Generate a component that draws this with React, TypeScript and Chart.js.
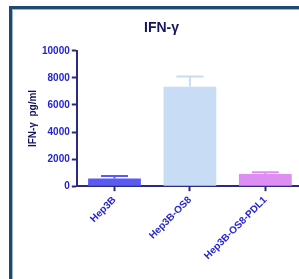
import React, { useEffect, useRef } from "react";
import { Chart, registerables } from "chart.js";

Chart.register(...registerables);

const categories = ["Hep3B", "Hep3B-OS8", "Hep3B-OS8-PDL1"];
const values = [560, 7350, 900];
const errorTops = [750, 8100, 1030];
const barColors = ["#5a5af2", "#c8dcf6", "#de8ef3"];
const yTicks = [0, 2000, 4000, 6000, 8000, 10000];
const chartTitle = "IFN-γ";
const yTitle = "IFN-γ  pg/ml";

const FONT = "'Liberation Sans', Arial, sans-serif";

const framePlugin = {
  id: "frame",
  beforeDraw(chart: any) {
    const ctx = chart.ctx;
    ctx.save();
    ctx.fillStyle = "#ffffff";
    ctx.fillRect(0, 0, chart.width, chart.height);
    ctx.fillStyle = "#1c4a72";
    ctx.fillRect(9, 6, 3, chart.height);
    ctx.fillRect(9, 6, chart.width, 3);
    ctx.fillStyle = "#9fb4c8";
    ctx.fillRect(12, 9, 1, chart.height);
    ctx.fillRect(12, 9, chart.width, 1);
    ctx.restore();
  },
};

const errorBarPlugin = {
  id: "errorBars",
  afterDatasetsDraw(chart: any) {
    const ctx = chart.ctx;
    const meta = chart.getDatasetMeta(0);
    const yScale = chart.scales.y;
    ctx.save();
    meta.data.forEach((bar: any, i: number) => {
      const x = bar.x;
      const yTop = yScale.getPixelForValue(errorTops[i]);
      const yVal = yScale.getPixelForValue(values[i]);
      ctx.strokeStyle = barColors[i];
      ctx.lineWidth = 2;
      ctx.beginPath();
      ctx.moveTo(x, yVal);
      ctx.lineTo(x, yTop);
      ctx.moveTo(x - 13.5, yTop);
      ctx.lineTo(x + 13.5, yTop);
      ctx.stroke();
    });
    ctx.restore();
  },
};

export default function App() {
  const ref = useRef<HTMLCanvasElement>(null);
  useEffect(() => {
    if (!ref.current) return;
    const chart = new Chart(ref.current, {
      type: "bar",
      data: {
        labels: categories,
        datasets: [
          {
            data: values,
            backgroundColor: barColors,
            borderWidth: 0,
            categoryPercentage: 1,
            barPercentage: 0.7,
          },
        ],
      },
      options: {
        responsive: false,
        animation: false,
        devicePixelRatio: 1,
        layout: { padding: { left: 20, right: 2, top: 0, bottom: 14 } },
        plugins: {
          legend: { display: false },
          tooltip: { enabled: false },
          title: {
            display: true,
            text: chartTitle,
            color: "#14145a",
            font: { family: FONT, size: 14, weight: "bold" },
            padding: { top: 20, bottom: 14 },
          },
        },
        scales: {
          x: {
            offset: true,
            grid: {
              offset: false,
              drawOnChartArea: false,
              drawTicks: true,
              tickLength: 5,
              tickWidth: 2,
              tickColor: "#2a2a80",
            },
            border: { display: true, color: "#2a2a80", width: 2 },
            ticks: {
              color: "#2424d0",
              font: { family: FONT, size: 10, weight: "bold" },
              maxRotation: 45,
              minRotation: 45,
              autoSkip: false,
              padding: 3,
            },
          },
          y: {
            min: 0,
            max: 10000,
            afterBuildTicks: (scale: any) => {
              scale.ticks = yTicks.map((v) => ({ value: v }));
            },
            grid: {
              drawOnChartArea: false,
              drawTicks: true,
              tickLength: 5,
              tickWidth: 2,
              tickColor: "#2a2a80",
            },
            border: { display: true, color: "#2a2a80", width: 2 },
            ticks: {
              color: "#2424d0",
              font: { family: FONT, size: 10, weight: "bold" },
              padding: 2,
              callback: (v: any) => String(v),
            },
            title: {
              display: true,
              text: yTitle,
              color: "#14145a",
              font: { family: FONT, size: 10, weight: "bold" },
              padding: { top: 7, bottom: 1 },
            },
          },
        },
      },
      plugins: [framePlugin, errorBarPlugin],
    });
    return () => chart.destroy();
  }, []);
  return (
    <div
      style={{
        position: "fixed",
        left: 0,
        top: 0,
        width: 299,
        height: 279,
        overflow: "hidden",
        background: "#fff",
      }}
    >
      <canvas ref={ref} width={305} height={279} style={{ width: 305, height: 279, display: "block" }} />
    </div>
  );
}
